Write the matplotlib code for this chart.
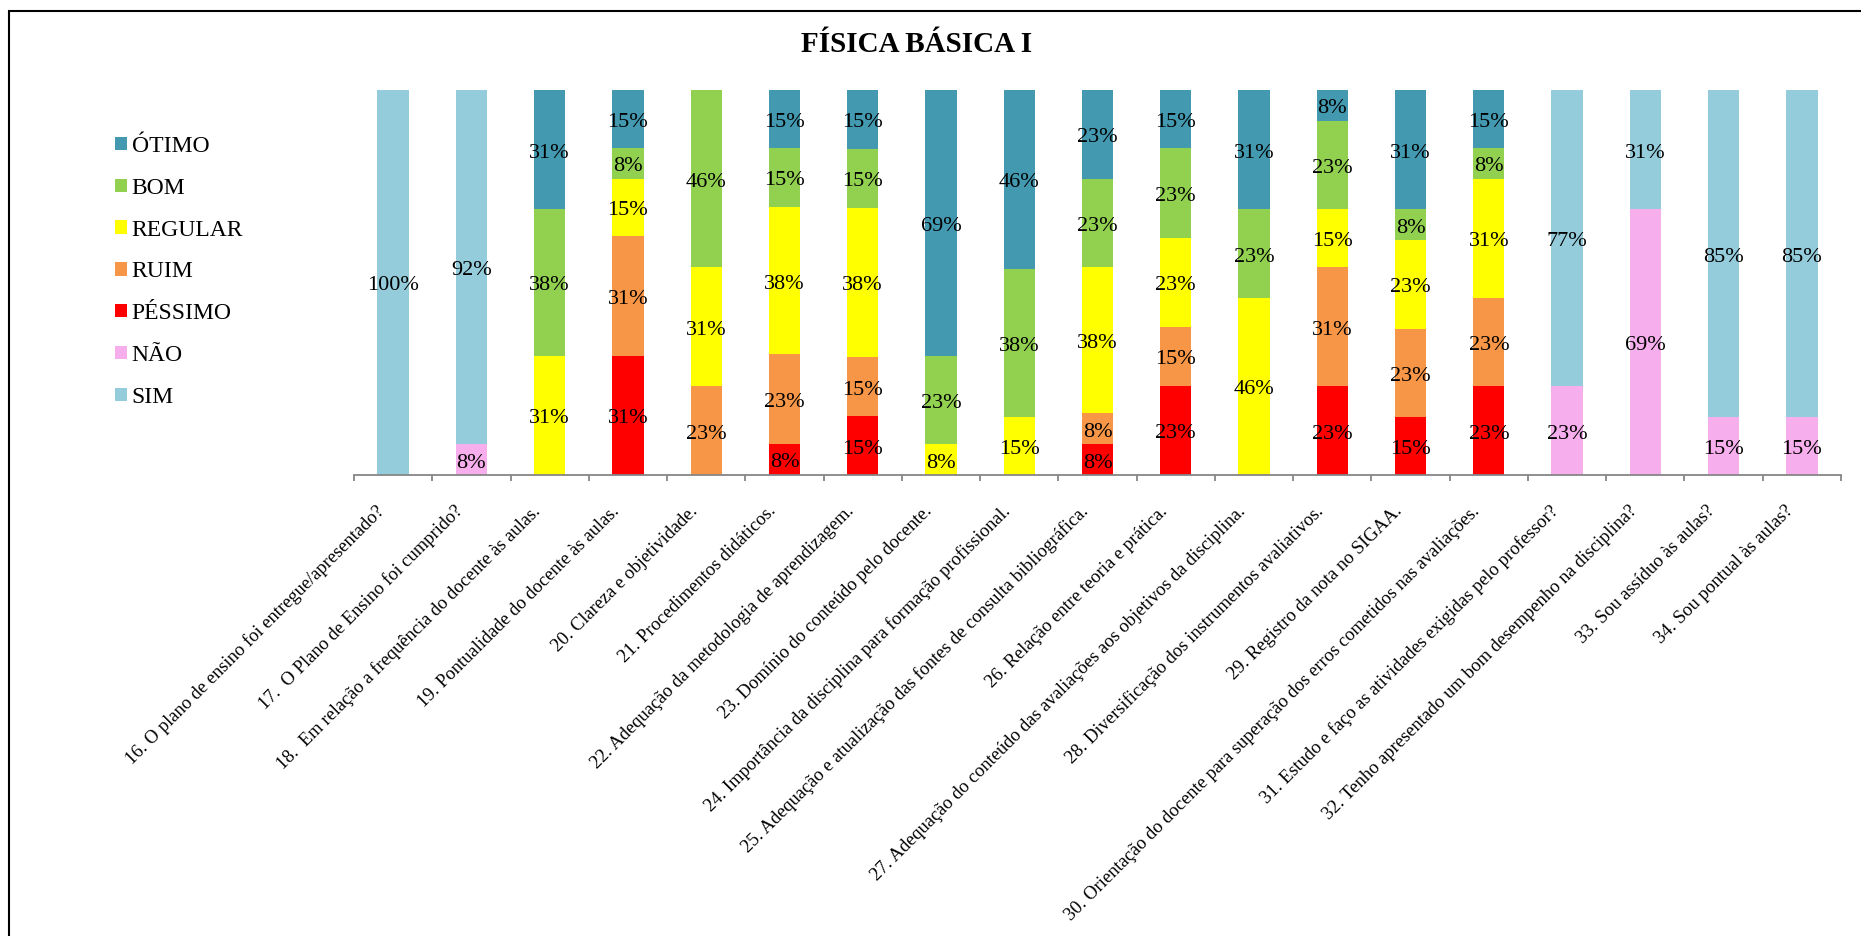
import matplotlib.pyplot as plt
from matplotlib.patches import Rectangle, Patch
import matplotlib.transforms as mtransforms
import numpy as np

plt.rcParams['font.family'] = ['Liberation Serif', 'DejaVu Serif']

questions = [
    "16. O plano de ensino foi entregue/apresentado?",
    "17.  O Plano de Ensino foi cumprido?",
    "18.  Em relação a frequência do docente às aulas.",
    "19. Pontualidade do docente às aulas.",
    "20. Clareza e objetividade.",
    "21. Procedimentos didáticos.",
    "22. Adequação da metodologia de aprendizagem.",
    "23. Domínio do conteúdo pelo docente.",
    "24. Importância da disciplina para formação profissional.",
    "25. Adequação e atualização das fontes de consulta bibliográfica.",
    "26. Relação entre teoria e prática.",
    "27. Adequação do conteúdo das avaliações aos objetivos da disciplina.",
    "28. Diversificação dos instrumentos avaliativos.",
    "29. Registro da nota no SIGAA.",
    "30. Orientação do docente para superação dos erros cometidos nas avaliações.",
    "31. Estudo e faço as atividades exigidas pelo professor?",
    "32. Tenho apresentado um bom desempenho na disciplina?",
    "33. Sou assíduo às aulas?",
    "34. Sou pontual às aulas?",
]

# percentages as printed on the bars (bottom -> top)
pessimo = [0, 0, 0, 31, 0, 8, 15, 0, 0, 8, 23, 0, 23, 15, 23, 0, 0, 0, 0]
ruim    = [0, 0, 0, 31, 23, 23, 15, 0, 0, 8, 15, 0, 31, 23, 23, 0, 0, 0, 0]
regular = [0, 0, 31, 15, 31, 38, 38, 8, 15, 38, 23, 46, 15, 23, 31, 0, 0, 0, 0]
bom     = [0, 0, 38, 8, 46, 15, 15, 23, 38, 23, 23, 23, 23, 8, 8, 0, 0, 0, 0]
otimo   = [0, 0, 31, 15, 0, 15, 15, 69, 46, 23, 15, 31, 8, 31, 15, 0, 0, 0, 0]
nao     = [0, 8, 0, 0, 0, 0, 0, 0, 0, 0, 0, 0, 0, 0, 0, 23, 69, 15, 15]
sim     = [100, 92, 0, 0, 0, 0, 0, 0, 0, 0, 0, 0, 0, 0, 0, 77, 31, 85, 85]

series = [
    ("PÉSSIMO", pessimo, "#FF0000"),
    ("RUIM", ruim, "#F79646"),
    ("REGULAR", regular, "#FFFF00"),
    ("BOM", bom, "#92D050"),
    ("ÓTIMO", otimo, "#4399B0"),
    ("NÃO", nao, "#F7AEEC"),
    ("SIM", sim, "#94CCDC"),
]
legend_order = ["ÓTIMO", "BOM", "REGULAR", "RUIM", "PÉSSIMO", "NÃO", "SIM"]

W, H = 1861, 936
fig = plt.figure(figsize=(W / 100, H / 100), dpi=100)
ax = fig.add_axes([354 / W, 1 - 475 / H, (1841 - 354) / W, 385 / H])

x = np.arange(len(questions))
# 100% stacked columns: each bar is scaled to its own total
totals = np.sum([s[1] for s in series], axis=0)
bottom = np.zeros(len(questions))
for name, vals, color in series:
    vals = np.array(vals, dtype=float)
    h = vals / totals * 100
    ax.bar(x, h, width=0.4, bottom=bottom, color=color, edgecolor='none')
    for i in range(len(x)):
        if vals[i] > 0:
            ax.annotate(f"{int(vals[i])}%", (x[i], bottom[i] + h[i] / 2),
                        xytext=(0, -2.5), textcoords='offset points',
                        ha='center', va='center', fontsize=16)
    bottom += h

ax.set_xlim(-0.5, len(questions) - 0.5)
ax.set_ylim(0, 100)
ax.set_yticks([])
for sp in ['left', 'right', 'top']:
    ax.spines[sp].set_visible(False)
ax.spines['bottom'].set_color('#868686')
ax.spines['bottom'].set_linewidth(1.3)

# tick marks sit between categories, labels at the centres
ax.set_xticks(x)
ax.set_xticks(np.arange(len(questions) + 1) - 0.5, minor=True)
ax.tick_params(axis='x', which='major', length=0, pad=26.5)
ax.tick_params(axis='x', which='minor', length=4, color='#868686', width=1.3)
ax.set_xticklabels(questions, fontsize=13.3)
offset = mtransforms.ScaledTranslation(-8 / 100, 0, fig.dpi_scale_trans)
for lab in ax.get_xticklabels():
    lab.set_rotation(45)
    lab.set_ha('right')
    lab.set_va('baseline')
    lab.set_rotation_mode('anchor')
    lab.set_transform(lab.get_transform() + offset)

colors = {n: c for n, _, c in series}
handles = [Patch(facecolor=colors[n], edgecolor='none', label=n) for n in legend_order]
fig.legend(handles=handles, loc='upper left', bbox_to_anchor=(115 / W, 1 - 136 / H),
           frameon=False, fontsize=17, handlelength=0.5, handleheight=0.5,
           handletextpad=0.2, labelspacing=0.88, borderpad=0, borderaxespad=0)

fig.text(917 / W, 1 - 44 / H, "FÍSICA BÁSICA I", ha='center', va='center',
         fontsize=21, fontweight='bold')

fig.add_artist(Rectangle((9 / W, -0.1), 1.2, 1.1 - 11 / H, transform=fig.transFigure,
                         fill=False, edgecolor='black', linewidth=1.5))

fig.savefig("out.png", dpi=100)
